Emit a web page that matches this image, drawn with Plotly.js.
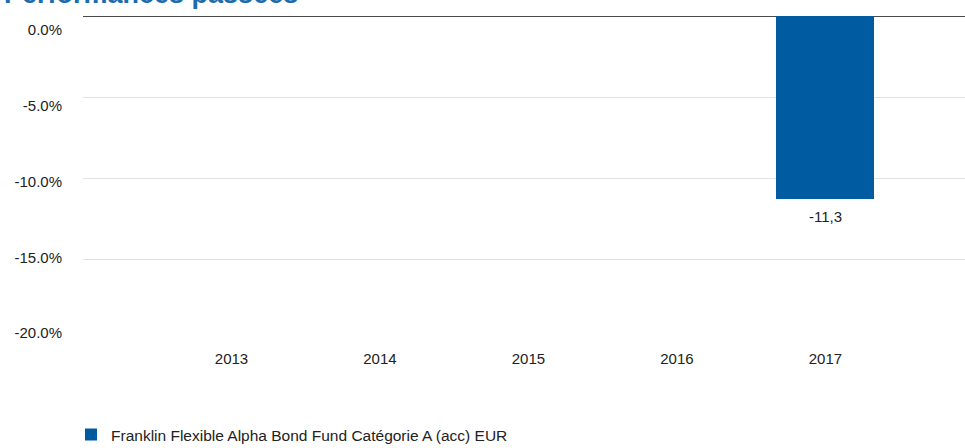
<!DOCTYPE html>
<html><head><meta charset="utf-8">
<script src="https://cdn.plot.ly/plotly-3.0.1.min.js"></script>
<style>html,body{margin:0;padding:0;background:#fff;}</style>
</head><body>
<div id="chart" style="width:965px;height:448px;"></div>
<script>
const years = ['2013', '2014', '2015', '2016', '2017'];
const fundValues = [null, null, null, null, -11.3];
const fundLabels = ['', '', '', '', '-11,3'];
const seriesName = 'Franklin Flexible Alpha Bond Fund Catégorie A (acc) EUR';
const yTickVals = [0, -5, -10, -15, -20];
const yTickText = ['0.0%', '-5.0%', '-10.0%', '-15.0%', '-20.0%'];
const chartTitle = 'Performances passées';

const FONT = '"Liberation Sans", Arial, sans-serif';

const labelAnnotations = years.map((yr, i) => fundValues[i] === null ? null : ({
  x: i, y: fundValues[i], xref: 'x', yref: 'y',
  text: fundLabels[i], showarrow: false, yanchor: 'middle', yshift: -17,
  font: {family: FONT, size: 15, color: '#222'}
})).filter(a => a);

Plotly.newPlot('chart', [{
  type: 'bar',
  x: years,
  y: fundValues,
  name: seriesName,
  marker: {color: '#005ba1'},
  width: 0.66,
  showlegend: true
}, {
  type: 'scatter', mode: 'none', x: [], y: [], yaxis: 'y2', showlegend: false, hoverinfo: 'skip'
}], {
  width: 965, height: 448,
  margin: {l: 83, r: 0, t: 16, b: 108, autoexpand: false},
  paper_bgcolor: '#fff', plot_bgcolor: '#fff',
  font: {family: FONT, size: 15, color: '#222'},
  annotations: [{
    text: '<b>' + chartTitle + '</b>',
    xref: 'paper', yref: 'paper', x: -0.092, y: 1.0154,
    xanchor: 'left', yanchor: 'bottom', showarrow: false,
    font: {family: FONT, size: 27, color: '#1a6cb0'}
  }].concat(labelAnnotations),
  xaxis: {
    type: 'category',
    range: [-1, 4.94],
    showgrid: false, zeroline: false, showline: false,
    ticks: '', ticklabelstandoff: 8,
    tickfont: {family: FONT, size: 15, color: '#222'}
  },
  yaxis: {
    range: [-20, 0],
    tickvals: yTickVals, showticklabels: false,
    showgrid: true, gridcolor: '#e2e2e2', gridwidth: 1,
    zeroline: true, zerolinecolor: '#4a4a4a', zerolinewidth: 1,
    showline: false, ticks: ''
  },
  yaxis2: {
    overlaying: 'y', side: 'left',
    range: [-20.46, 0.924],
    tickvals: yTickVals, ticktext: yTickText,
    showgrid: false, zeroline: false, showline: false, ticks: '',
    ticklabelstandoff: 20,
    tickfont: {family: FONT, size: 15, color: '#222'}
  },
  legend: {
    orientation: 'h', x: -0.0136, xanchor: 'left', y: -0.293, yanchor: 'middle',
    font: {family: FONT, size: 15.5, color: '#222'}
  },
  bargap: 0
}, {displayModeBar: false, staticPlot: true});
</script>
</body></html>
